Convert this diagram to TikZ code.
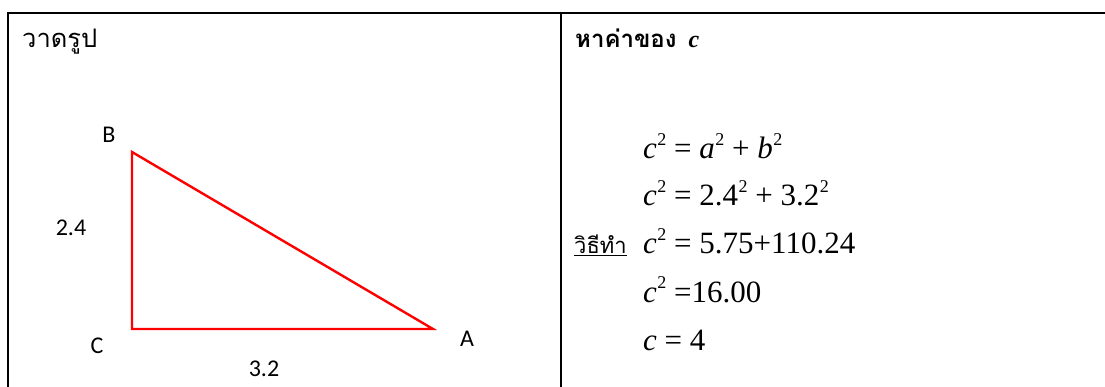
\documentclass[tikz,border=0pt]{standalone}
\usepackage{fontspec}
\setmainfont{Liberation Serif}
\newfontfamily\thaifont[Script=Thai]{Loma}
\newfontfamily\lblfont{Carlito}
\newfontfamily\eqfont{Liberation Serif}
\newcommand\sqr{\kern0.5pt\raisebox{0.42em}{\fontsize{18}{18}\selectfont 2}}
\newcommand\vc{\textit{c}}
\newcommand\eqsp{\kern0.25em}
\tikzset{
  rule/.style={line width=2.5pt, black},
  tri/.style={line width=2.4pt, red},
  lbl/.style={font=\lblfont\fontsize{24}{24}\selectfont, inner sep=0pt},
  thai/.style={font=\thaifont\fontsize{25.5}{28}\selectfont, inner sep=0pt, anchor=base west},
  eq/.style={font=\eqfont\fontsize{31}{36}\selectfont, inner sep=0pt, anchor=base west},
}
\begin{document}
\begin{tikzpicture}[x=1pt,y=-1pt]
\useasboundingbox (0,0) rectangle (1105,387);
% table rules
\coordinate (tl) at (8,13);
\coordinate (tr) at (1105,13);
\coordinate (bl) at (8,387);
\coordinate (mt) at (561,13);
\coordinate (mb) at (561,387);
\draw[rule] (tr) -- (tl) -- (bl);
\draw[rule] (mt) -- (mb);
% headings
\node[thai] (h1) at (22,48) {วาดรูป};
\node[thai, font=\thaifont\fontsize{24}{28}\selectfont] (h2) at (575,48) {\bfseries หาค่าของ\ \,{\eqfont\itshape\fontsize{24}{24}\selectfont c}};
% triangle
\coordinate (B) at (132,152);
\coordinate (C) at (132,329);
\coordinate (A) at (433,329);
\draw[tri, line join=miter] (B) -- (C) -- (A) -- cycle;
\node[lbl] (lB) at (109,135) {B};
\node[lbl] (lC) at (97,346) {C};
\node[lbl] (lA) at (467,339) {A};
\node[lbl] (l24) at (71,228) {2.4};
\node[lbl] (l32) at (264,369) {3.2};
% equations
\node[eq] (e1) at (643,159) {\vc\sqr\eqsp=\eqsp\textit{a}\sqr\eqsp+\eqsp\textit{b}\sqr};
\node[eq] (e2) at (643,206) {\vc\sqr\eqsp=\eqsp2.4\sqr\eqsp+\eqsp3.2\sqr};
\node[eq] (e3) at (643,254) {\vc\sqr\eqsp=\eqsp5.75+110.24};
\node[eq] (e4) at (643,302) {\vc\sqr\eqsp=16.00};
\node[eq] (e5) at (643,350) {\vc\eqsp=\eqsp4};
\node[thai, font=\thaifont\fontsize{22}{26}\selectfont] (w) at (574,254) {\underline{วิธีทำ}};
\end{tikzpicture}
\end{document}
